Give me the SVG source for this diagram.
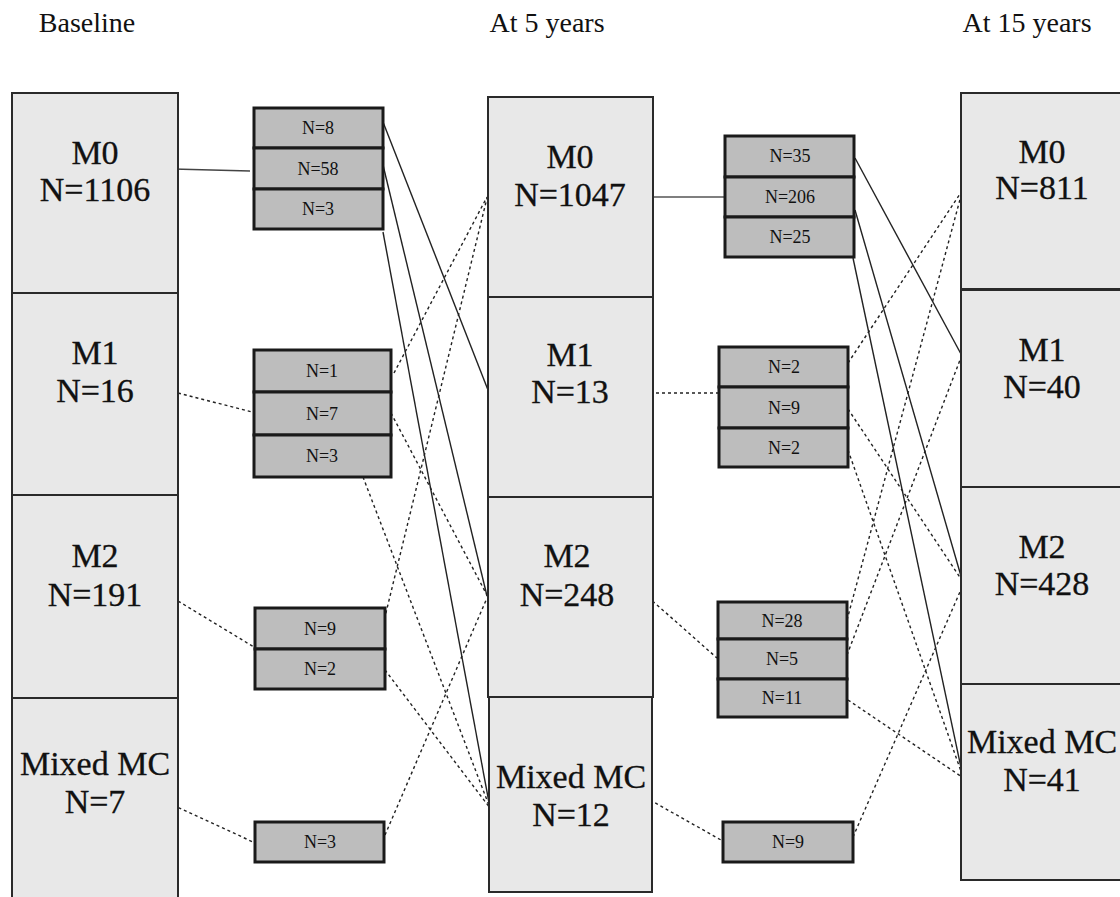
<svg xmlns="http://www.w3.org/2000/svg" width="1120" height="897" viewBox="0 0 1120 897">
<style>
.big{fill:#e8e8e8;stroke:#2a2a2a;stroke-width:2}
.sm{fill:#bdbdbd;stroke:#1a1a1a;stroke-width:3}
.bt{font-family:"Liberation Serif",serif;font-size:34px;fill:#111;text-anchor:middle;stroke:#111;stroke-width:0.3}
.st{font-family:"Liberation Serif",serif;font-size:18px;fill:#111;text-anchor:middle}
.ht{font-family:"Liberation Serif",serif;font-size:28px;fill:#111;text-anchor:middle}
.s{stroke:#222;stroke-width:1.4;fill:none}
.d{stroke:#222;stroke-width:1.4;fill:none;stroke-dasharray:3,3}
</style>
<rect width="1120" height="897" fill="#fff"/>
<g id="headers">
<text class="ht" x="87" y="32">Baseline</text>
<text class="ht" x="547" y="32">At 5 years</text>
<text class="ht" x="1027" y="32">At 15 years</text>
</g>
<g id="connectors">
<line class="s" x1="173" y1="169" x2="250" y2="171" style="stroke:#444"/>
<line class="s" x1="383" y1="122" x2="488" y2="390"/>
<line class="s" x1="383" y1="165" x2="487" y2="596"/>
<line class="s" x1="383" y1="232" x2="490" y2="808"/>
<line class="d" x1="178" y1="393" x2="252" y2="412"/>
<line class="d" x1="394" y1="373" x2="487" y2="197"/>
<line class="d" x1="391" y1="413" x2="488" y2="597"/>
<line class="d" x1="363" y1="477" x2="490" y2="808"/>
<line class="d" x1="173" y1="598" x2="254" y2="647"/>
<line class="d" x1="383" y1="625" x2="487" y2="198"/>
<line class="d" x1="385" y1="670" x2="490" y2="808"/>
<line class="d" x1="173" y1="805" x2="253" y2="842"/>
<line class="d" x1="385" y1="835" x2="487" y2="598"/>
<line class="s" x1="649" y1="197" x2="728" y2="197" style="stroke:#555"/>
<line class="s" x1="855" y1="158" x2="961" y2="354"/>
<line class="s" x1="855" y1="210" x2="963" y2="583"/>
<line class="s" x1="853" y1="258" x2="963" y2="777"/>
<line class="d" x1="650" y1="393" x2="718" y2="393"/>
<line class="d" x1="848" y1="363" x2="962" y2="191"/>
<line class="d" x1="848" y1="409" x2="963" y2="582"/>
<line class="d" x1="848" y1="450" x2="963" y2="777"/>
<line class="d" x1="648" y1="597" x2="717" y2="658"/>
<line class="d" x1="847" y1="620" x2="962" y2="192"/>
<line class="d" x1="847" y1="655" x2="960" y2="360"/>
<line class="d" x1="848" y1="700" x2="962" y2="777"/>
<line class="d" x1="650" y1="800" x2="721" y2="840"/>
<line class="d" x1="853" y1="837" x2="963" y2="585"/>
</g>
<g id="base-m0"><rect class="big" x="12" y="93" width="166" height="200"/><text class="bt" x="95" y="164">M0</text><text class="bt" x="95" y="201">N=1106</text></g>
<g id="base-m1"><rect class="big" x="12" y="293" width="166" height="202"/><text class="bt" x="95" y="364">M1</text><text class="bt" x="95" y="402">N=16</text></g>
<g id="base-m2"><rect class="big" x="12" y="495" width="166" height="203"/><text class="bt" x="95" y="567">M2</text><text class="bt" x="95" y="606">N=191</text></g>
<g id="base-mixed"><rect class="big" x="12" y="698" width="166" height="210"/><text class="bt" x="95" y="775">Mixed MC</text><text class="bt" x="95" y="813">N=7</text></g>

<g id="t1-m0"><rect class="sm" x="254" y="108" width="129" height="40"/><text class="st" x="318" y="134">N=8</text>
<rect class="sm" x="254" y="148" width="129" height="41"/><text class="st" x="318" y="175">N=58</text>
<rect class="sm" x="254" y="189" width="129" height="40"/><text class="st" x="318" y="215">N=3</text></g>
<g id="t1-m1"><rect class="sm" x="254" y="350" width="137" height="42"/><text class="st" x="322" y="377">N=1</text>
<rect class="sm" x="254" y="392" width="137" height="43"/><text class="st" x="322" y="420">N=7</text>
<rect class="sm" x="254" y="435" width="137" height="42"/><text class="st" x="322" y="462">N=3</text></g>
<g id="t1-m2"><rect class="sm" x="255" y="608" width="130" height="41"/><text class="st" x="320" y="635">N=9</text>
<rect class="sm" x="255" y="649" width="130" height="40"/><text class="st" x="320" y="675">N=2</text></g>
<g id="t1-mixed"><rect class="sm" x="255" y="822" width="129" height="40"/><text class="st" x="320" y="848">N=3</text></g>

<g id="y5-m0"><rect class="big" x="488" y="97" width="165" height="200"/><text class="bt" x="570" y="168">M0</text><text class="bt" x="570" y="206">N=1047</text></g>
<g id="y5-m1"><rect class="big" x="488" y="297" width="165" height="200"/><text class="bt" x="570" y="366">M1</text><text class="bt" x="570" y="403">N=13</text></g>
<g id="y5-m2"><rect class="big" x="488" y="497" width="165" height="200"/><text class="bt" x="567" y="567">M2</text><text class="bt" x="567" y="606">N=248</text></g>
<g id="y5-mixed"><rect class="big" x="489" y="697" width="163" height="195"/><text class="bt" x="571" y="788">Mixed MC</text><text class="bt" x="571" y="826">N=12</text></g>

<g id="t2-m0"><rect class="sm" x="725" y="136" width="129" height="41"/><text class="st" x="790" y="162">N=35</text>
<rect class="sm" x="725" y="177" width="129" height="40"/><text class="st" x="790" y="203">N=206</text>
<rect class="sm" x="725" y="217" width="129" height="40"/><text class="st" x="790" y="243">N=25</text></g>
<g id="t2-m1"><rect class="sm" x="719" y="347" width="129" height="40"/><text class="st" x="784" y="373">N=2</text>
<rect class="sm" x="719" y="387" width="129" height="41"/><text class="st" x="784" y="414">N=9</text>
<rect class="sm" x="719" y="428" width="129" height="39"/><text class="st" x="784" y="454">N=2</text></g>
<g id="t2-m2"><rect class="sm" x="718" y="602" width="129" height="37"/><text class="st" x="782" y="627">N=28</text>
<rect class="sm" x="718" y="639" width="129" height="40"/><text class="st" x="782" y="665">N=5</text>
<rect class="sm" x="718" y="679" width="129" height="38"/><text class="st" x="782" y="704">N=11</text></g>
<g id="t2-mixed"><rect class="sm" x="723" y="822" width="130" height="40"/><text class="st" x="788" y="848">N=9</text></g>

<g id="y15-m0"><rect class="big" x="961" y="93" width="170" height="196"/><text class="bt" x="1042" y="163">M0</text><text class="bt" x="1042" y="199">N=811</text></g>
<g id="y15-m1"><rect class="big" x="961" y="290" width="170" height="197"/><text class="bt" x="1042" y="361">M1</text><text class="bt" x="1042" y="398">N=40</text></g>
<g id="y15-m2"><rect class="big" x="961" y="487" width="170" height="197"/><text class="bt" x="1042" y="558">M2</text><text class="bt" x="1042" y="595">N=428</text></g>
<g id="y15-mixed"><rect class="big" x="961" y="684" width="170" height="196"/><text class="bt" x="1042" y="753">Mixed MC</text><text class="bt" x="1042" y="791">N=41</text></g>
</svg>
